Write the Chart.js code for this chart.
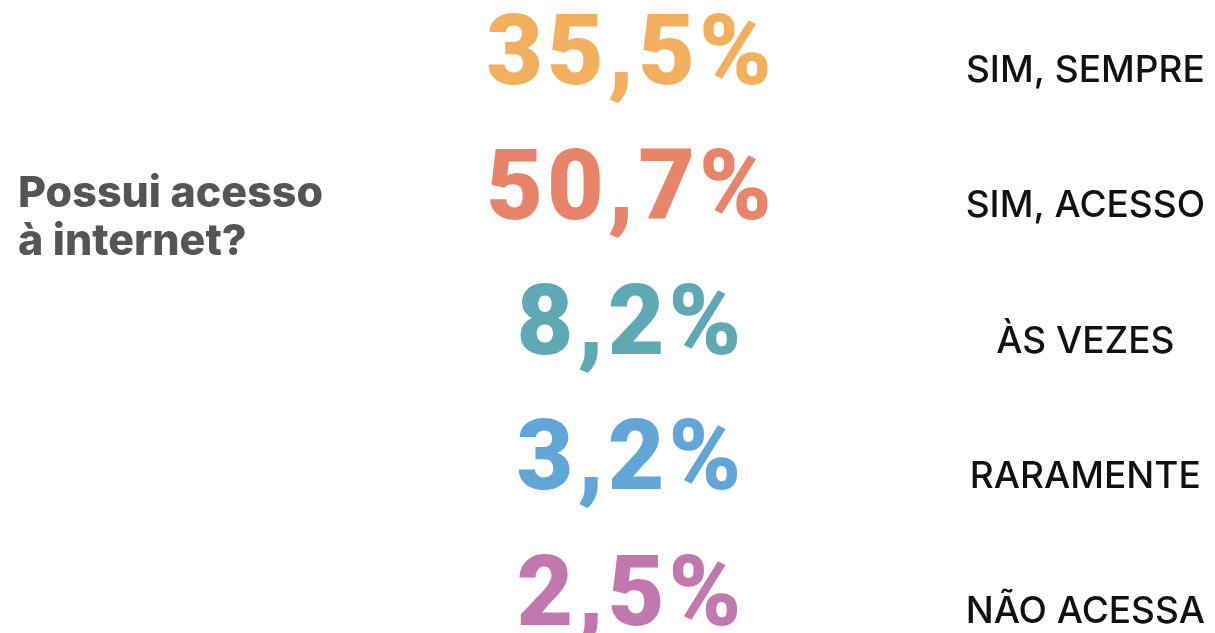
<!DOCTYPE html>
<html>
<head>
<meta charset="utf-8">
<script src="https://cdn.jsdelivr.net/npm/chart.js@4"></script>
<style>
  html, body { margin: 0; padding: 0; background: #ffffff; }
  #wrap { width: 1215px; height: 633px; position: relative; }
</style>
</head>
<body>
<div id="wrap"><canvas id="c" width="1215" height="633"></canvas></div>
<script>
const categories = ['SIM, SEMPRE', 'SIM, ACESSO', 'ÀS VEZES', 'RARAMENTE', 'NÃO ACESSA'];
const values = [35.5, 50.7, 8.2, 3.2, 2.5];
const colors = ['#F2B05E', '#E8846A', '#5FA9B4', '#62A5D7', '#C078AE'];
const titleLines = ['Possui acesso', 'à internet?'];

const valueText = {
  id: 'valueText',
  afterDatasetsDraw(chart, args, opts) {
    const ctx = chart.ctx;
    const meta = chart.getDatasetMeta(0);
    ctx.save();
    ctx.font = opts.font;
    if ('letterSpacing' in ctx) ctx.letterSpacing = opts.spacing;
    ctx.textAlign = 'center';
    ctx.textBaseline = 'alphabetic';
    meta.data.forEach((el, i) => {
      ctx.fillStyle = colors[i];
      const txt = values[i].toFixed(1).replace('.', ',') + '%';
      ctx.fillText(txt, opts.x, el.y + opts.capHalf);
    });
    ctx.restore();
  }
};

const sideTitle = {
  id: 'sideTitle',
  afterDraw(chart, args, opts) {
    const ctx = chart.ctx;
    ctx.save();
    ctx.font = opts.font;
    ctx.fillStyle = opts.color;
    ctx.textAlign = 'left';
    ctx.textBaseline = 'alphabetic';
    titleLines.forEach((t, i) => ctx.fillText(t, opts.x, opts.y + i * opts.lineHeight));
    ctx.restore();
  }
};

new Chart(document.getElementById('c'), {
  type: 'bar',
  data: {
    labels: categories,
    datasets: [{
      data: values,
      backgroundColor: 'rgba(0,0,0,0)',
      borderWidth: 0
    }]
  },
  options: {
    responsive: false,
    animation: false,
    indexAxis: 'y',
    layout: { padding: { top: 49, bottom: 43, left: 0, right: 6 } },
    plugins: {
      legend: { display: false },
      tooltip: { enabled: false },
      valueText: { x: 631, font: '900 98px Roboto', capHalf: 34.5, spacing: '4px' },
      sideTitle: { x: 18, y: 207, lineHeight: 48, font: '800 43px Inter', color: '#555555' }
    },
    scales: {
      x: { display: false, min: 0, max: 100 },
      y: {
        position: 'right',
        offset: false,
        grid: { display: false },
        border: { display: false },
        ticks: {
          color: '#111111',
          font: { family: 'Inter', size: 37, weight: '500' },
          labelOffset: 22,
          crossAlign: 'center',
          padding: 4
        }
      }
    }
  },
  plugins: [valueText, sideTitle]
});
</script>
</body>
</html>
